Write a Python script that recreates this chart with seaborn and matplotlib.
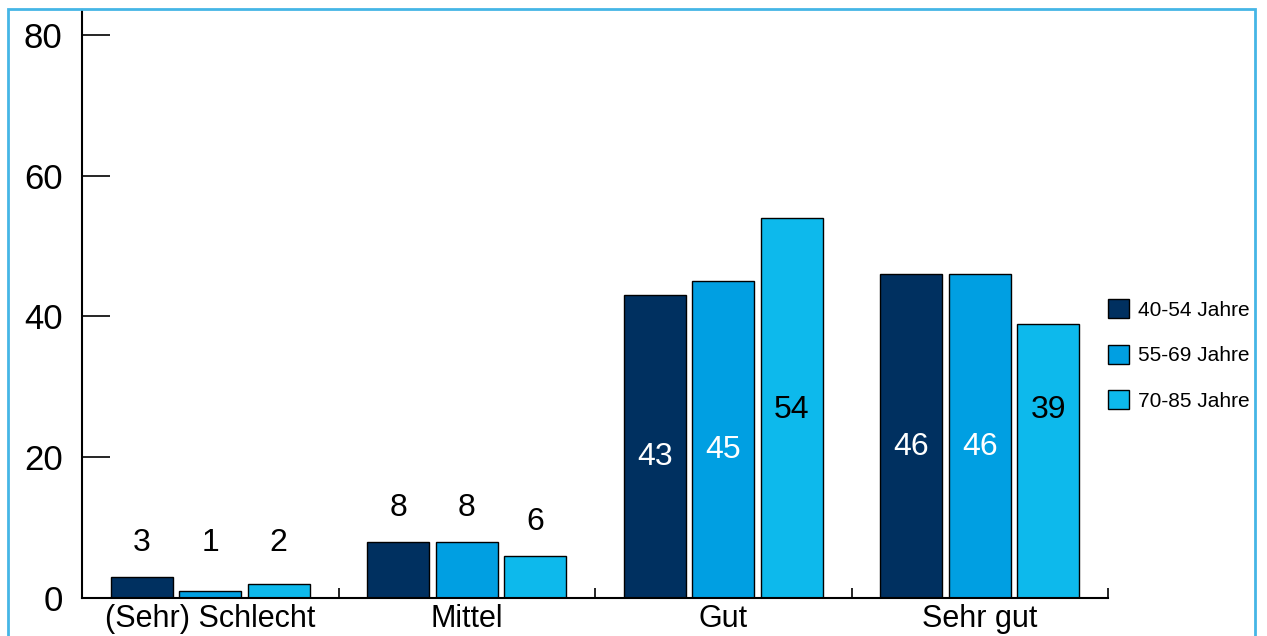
import matplotlib
matplotlib.use("Agg")
import matplotlib.pyplot as plt
from matplotlib.patches import Rectangle
import seaborn as sns
import pandas as pd

# data
categories = ["(Sehr) Schlecht", "Mittel", "Gut", "Sehr gut"]
groups = ["40-54 Jahre", "55-69 Jahre", "70-85 Jahre"]
vals_40_54 = [3, 8, 43, 46]
vals_55_69 = [1, 8, 45, 46]
vals_70_85 = [2, 6, 54, 39]
colors = ["#003060", "#009FE2", "#0DB9EC"]

rows = []
for g, vals in zip(groups, [vals_40_54, vals_55_69, vals_70_85]):
    for c, v in zip(categories, vals):
        rows.append({"Kategorie": c, "Gruppe": g, "Wert": v})
df = pd.DataFrame(rows)

sns.set_style("white")
plt.rcParams["font.family"] = ["Liberation Sans", "DejaVu Sans"]

fig = plt.figure(figsize=(12.67, 6.36), dpi=100)
ax = fig.add_axes([82/1267, 38/636, (1108-82)/1267, 588/636])

sns.barplot(data=df, x="Kategorie", y="Wert", hue="Gruppe", palette=colors,
            saturation=1, width=0.8, gap=0.09, edgecolor="black", linewidth=1, ax=ax)

ax.set_ylim(0, 83.55)
ax.set_xlim(-0.5, 3.5)
ax.set_xlabel("")
ax.set_ylabel("")
ax.set_yticks([0, 20, 40, 60, 80])
ax.tick_params(axis="y", left=True, direction="in", length=20, width=1.2,
               labelsize=25, pad=14, colors="black")
ax.set_xticks(range(4))
ax.set_xticklabels(categories, fontsize=22)
ax.tick_params(axis="x", length=0, pad=4, labelcolor="black")
ax.set_xticks([0.5, 1.5, 2.5, 3.5], minor=True)
ax.tick_params(axis="x", which="minor", bottom=True, direction="in", length=7,
               width=1.2, color="black")
for s in ["top", "right"]:
    ax.spines[s].set_visible(False)
for s in ["left", "bottom"]:
    ax.spines[s].set_linewidth(1.5)
    ax.spines[s].set_color("black")

# value labels: small bars above, tall bars inside
inner_light = 26.7
for i, cont in enumerate(ax.containers):
    for p in cont:
        h = p.get_height()
        xc = p.get_x() + p.get_width() / 2
        if h < 20:
            ax.text(xc, max(h, 3) + 4.8, f"{h:.0f}", ha="center", va="center",
                    fontsize=23, color="black")
        elif i == 2:
            ax.text(xc, inner_light, f"{h:.0f}", ha="center", va="center",
                    fontsize=23, color="black")
        else:
            ax.text(xc, h / 2 - 1.5, f"{h:.0f}", ha="center", va="center",
                    fontsize=23, color="white")

leg = ax.legend(loc="center left", bbox_to_anchor=(1.0, 0.413), frameon=False, fontsize=15,
                handlelength=1.0, handleheight=1.0, handletextpad=0.45, labelspacing=1.2,
                borderaxespad=0, borderpad=0)
for t in leg.get_texts():
    t.set_color("black")

# outer frame
fig.patches.append(Rectangle((8/1267, -0.1), (1255-8)/1267, (636-9)/636 + 0.1,
                             transform=fig.transFigure, fill=False,
                             edgecolor="#45B6E6", linewidth=2))

fig.savefig("out.png", dpi=100)
